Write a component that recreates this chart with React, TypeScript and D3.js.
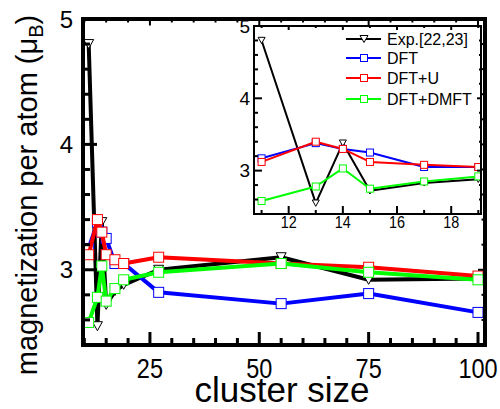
import React, { useEffect, useRef } from "react";
import * as d3 from "d3";

// cluster sizes and magnetization (mu_B per atom)
const sizes = [11, 13, 14, 15, 17, 19, 27, 55, 75, 100];
const expValues = [4.8, 2.55, 3.38, 2.72, 2.83, 2.88, 3.0, 3.1, 2.92, 2.93];
const dftValues = [3.17, 3.38, 3.3, 3.25, 3.05, 3.05, 2.82, 2.73, 2.81, 2.66];
const dftuValues = [3.12, 3.4, 3.3, 3.12, 3.08, 3.05, 3.1, 3.05, 3.02, 2.95];
const dmftValues = [2.58, 2.78, 3.03, 2.75, 2.85, 2.92, 2.98, 3.05, 2.98, 2.92];

const seriesNames = ["Exp.[22,23]", "DFT", "DFT+U", "DFT+DMFT"];
const seriesColors = ["#000000", "#0000ff", "#ff0000", "#00ff00"];
const seriesValues = [expValues, dftValues, dftuValues, dmftValues];

const mainXTicks = [25, 50, 75, 100];
const mainYTicks = [3, 4, 5];
const insetXTicks = [12, 14, 16, 18];
const insetYTicks = [3, 4, 5];

const FONT = "'Liberation Sans', Arial, sans-serif";

export default function App() {
  const ref = useRef<SVGSVGElement>(null);

  useEffect(() => {
    const svg = d3.select(ref.current);
    svg.selectAll("*").remove();

    const main = { left: 83, right: 485, top: 19, bottom: 345 };
    const inset = { left: 254, right: 481, top: 26, bottom: 214 };

    const x = d3.scaleLinear().domain([9.7, 101.6]).range([main.left, main.right]);
    const y = d3.scaleLinear().domain([2.4, 5]).range([main.bottom, main.top]);
    const xi = d3.scaleLinear().domain([10.72, 19.1]).range([inset.left, inset.right]);
    const yi = d3.scaleLinear().domain([2.4, 5]).range([inset.bottom, inset.top]);

    const drawSeries = (g, xs, ys, filterFn, lw, ms) => {
      seriesValues.forEach((vals, k) => {
        const pts = sizes.map((s, i) => [s, vals[i]]).filter(filterFn);
        const line = d3.line().x(d => xs(d[0])).y(d => ys(d[1]));
        g.append("path")
          .attr("d", line(pts))
          .attr("fill", "none")
          .attr("stroke", seriesColors[k])
          .attr("stroke-width", lw)
          .attr("stroke-linejoin", "round");
        pts.forEach(p => {
          const cx = xs(p[0]);
          const cy = ys(p[1]);
          if (k === 0) {
            const h = ms * 0.9;
            g.append("path")
              .attr("d", `M${cx - ms / 2},${cy - h / 2}L${cx + ms / 2},${cy - h / 2}L${cx},${cy + h / 2}Z`)
              .attr("fill", "white")
              .attr("stroke", "#000")
              .attr("stroke-width", 1);
          } else {
            g.append("rect")
              .attr("x", cx - ms / 2)
              .attr("y", cy - ms / 2)
              .attr("width", ms)
              .attr("height", ms)
              .attr("fill", "white")
              .attr("stroke", seriesColors[k])
              .attr("stroke-width", 1);
          }
        });
      });
    };

    // ---- main plot ----
    const gm = svg.append("g");
    drawSeries(gm, x, y, () => true, 4, 10);

    // main ticks
    const mxMinor = d3.range(10, 101, 5);
    mxMinor.forEach(v => {
      const major = mainXTicks.includes(v);
      const len = major ? 13 : 7;
      gm.append("line").attr("x1", x(v)).attr("x2", x(v))
        .attr("y1", main.bottom).attr("y2", main.bottom - len)
        .attr("stroke", "#000").attr("stroke-width", 3);
      gm.append("line").attr("x1", x(v)).attr("x2", x(v))
        .attr("y1", main.top).attr("y2", main.top + len / 2)
        .attr("stroke", "#000").attr("stroke-width", 2);
    });
    const myMinor = d3.range(2.6, 5.01, 0.2);
    myMinor.forEach(v => {
      const major = Math.abs(v - Math.round(v)) < 1e-6;
      const len = major ? 14 : 7;
      gm.append("line").attr("x1", main.left).attr("x2", main.left + len)
        .attr("y1", y(v)).attr("y2", y(v))
        .attr("stroke", "#000").attr("stroke-width", 3);
      gm.append("line").attr("x1", main.right).attr("x2", main.right - len / 2)
        .attr("y1", y(v)).attr("y2", y(v))
        .attr("stroke", "#000").attr("stroke-width", 2);
    });

    gm.append("rect")
      .attr("x", main.left).attr("y", main.top)
      .attr("width", main.right - main.left).attr("height", main.bottom - main.top)
      .attr("fill", "none").attr("stroke", "#000").attr("stroke-width", 4);

    mainXTicks.forEach(v => {
      gm.append("text")
        .attr("transform", `translate(${x(v)},378) scale(0.84,1)`)
        .attr("text-anchor", "middle")
        .attr("font-family", FONT).attr("font-size", 28)
        .text(v);
    });
    mainYTicks.forEach(v => {
      gm.append("text")
        .attr("x", 73).attr("y", y(v))
        .attr("dy", "0.36em")
        .attr("text-anchor", "end")
        .attr("font-family", FONT).attr("font-size", 24)
        .text(v);
    });

    gm.append("text")
      .attr("x", 282).attr("y", 402)
      .attr("text-anchor", "middle")
      .attr("font-family", FONT).attr("font-size", 35)
      .text("cluster size");

    const yt = gm.append("text")
      .attr("transform", "translate(37,195) rotate(-90)")
      .attr("text-anchor", "middle")
      .attr("font-family", FONT).attr("font-size", 29);
    yt.append("tspan").text("magnetization per atom (\u03bc");
    yt.append("tspan").attr("font-size", 20).attr("dy", 6).text("B");
    yt.append("tspan").attr("dy", -6).text(")");

    // ---- inset ----
    const gi = svg.append("g");
    gi.append("rect")
      .attr("x", inset.left).attr("y", inset.top)
      .attr("width", inset.right - inset.left).attr("height", inset.bottom - inset.top)
      .attr("fill", "white");

    const clipId = "inset-clip";
    gi.append("clipPath").attr("id", clipId).append("rect")
      .attr("x", inset.left).attr("y", inset.top)
      .attr("width", inset.right - inset.left).attr("height", inset.bottom - inset.top + 6);
    const gis = gi.append("g").attr("clip-path", `url(#${clipId})`);
    drawSeries(gis, xi, yi, p => p[0] <= 19, 2, 7);

    d3.range(11, 19.1, 1).forEach(v => {
      const major = insetXTicks.includes(v);
      const len = major ? 8 : 4;
      gi.append("line").attr("x1", xi(v)).attr("x2", xi(v))
        .attr("y1", inset.bottom).attr("y2", inset.bottom - len)
        .attr("stroke", "#000").attr("stroke-width", 2);
      gi.append("line").attr("x1", xi(v)).attr("x2", xi(v))
        .attr("y1", inset.top).attr("y2", inset.top + len / 2)
        .attr("stroke", "#000").attr("stroke-width", 2);
    });
    d3.range(2.6, 5.01, 0.2).forEach(v => {
      const major = Math.abs(v - Math.round(v)) < 1e-6;
      const len = major ? 8 : 4;
      gi.append("line").attr("x1", inset.left).attr("x2", inset.left + len)
        .attr("y1", yi(v)).attr("y2", yi(v))
        .attr("stroke", "#000").attr("stroke-width", 2);
      gi.append("line").attr("x1", inset.right).attr("x2", inset.right - len / 2)
        .attr("y1", yi(v)).attr("y2", yi(v))
        .attr("stroke", "#000").attr("stroke-width", 2);
    });
    gi.append("rect")
      .attr("x", inset.left).attr("y", inset.top)
      .attr("width", inset.right - inset.left).attr("height", inset.bottom - inset.top)
      .attr("fill", "none").attr("stroke", "#000").attr("stroke-width", 2);

    insetXTicks.forEach(v => {
      gi.append("text")
        .attr("transform", `translate(${xi(v)},228) scale(0.9,1)`)
        .attr("text-anchor", "middle")
        .attr("font-family", FONT).attr("font-size", 16)
        .text(v);
    });
    insetYTicks.forEach(v => {
      gi.append("text")
        .attr("x", 250).attr("y", yi(v))
        .attr("dy", "0.36em")
        .attr("text-anchor", "end")
        .attr("font-family", FONT).attr("font-size", 19)
        .text(v);
    });

    // legend
    const legendRows = [39, 58, 78, 99];
    seriesNames.forEach((name, k) => {
      const ly = legendRows[k];
      gi.append("line").attr("x1", 346).attr("x2", 381)
        .attr("y1", ly).attr("y2", ly)
        .attr("stroke", seriesColors[k]).attr("stroke-width", 2);
      const mx = 364;
      if (k === 0) {
        gi.append("path")
          .attr("d", `M${mx - 4},${ly - 3.5}L${mx + 4},${ly - 3.5}L${mx},${ly + 3.5}Z`)
          .attr("fill", "white").attr("stroke", "#000").attr("stroke-width", 1);
      } else {
        gi.append("rect")
          .attr("x", mx - 3.5).attr("y", ly - 3.5)
          .attr("width", 7).attr("height", 7)
          .attr("fill", "white").attr("stroke", seriesColors[k]).attr("stroke-width", 1);
      }
      gi.append("text")
        .attr("x", 387).attr("y", ly)
        .attr("dy", "0.36em")
        .attr("font-family", FONT).attr("font-size", 16)
        .text(name);
    });
  }, []);

  return (
    <svg
      ref={ref}
      width={500}
      height={409}
      style={{ position: "absolute", left: 0, top: 0, background: "white" }}
    />
  );
}
